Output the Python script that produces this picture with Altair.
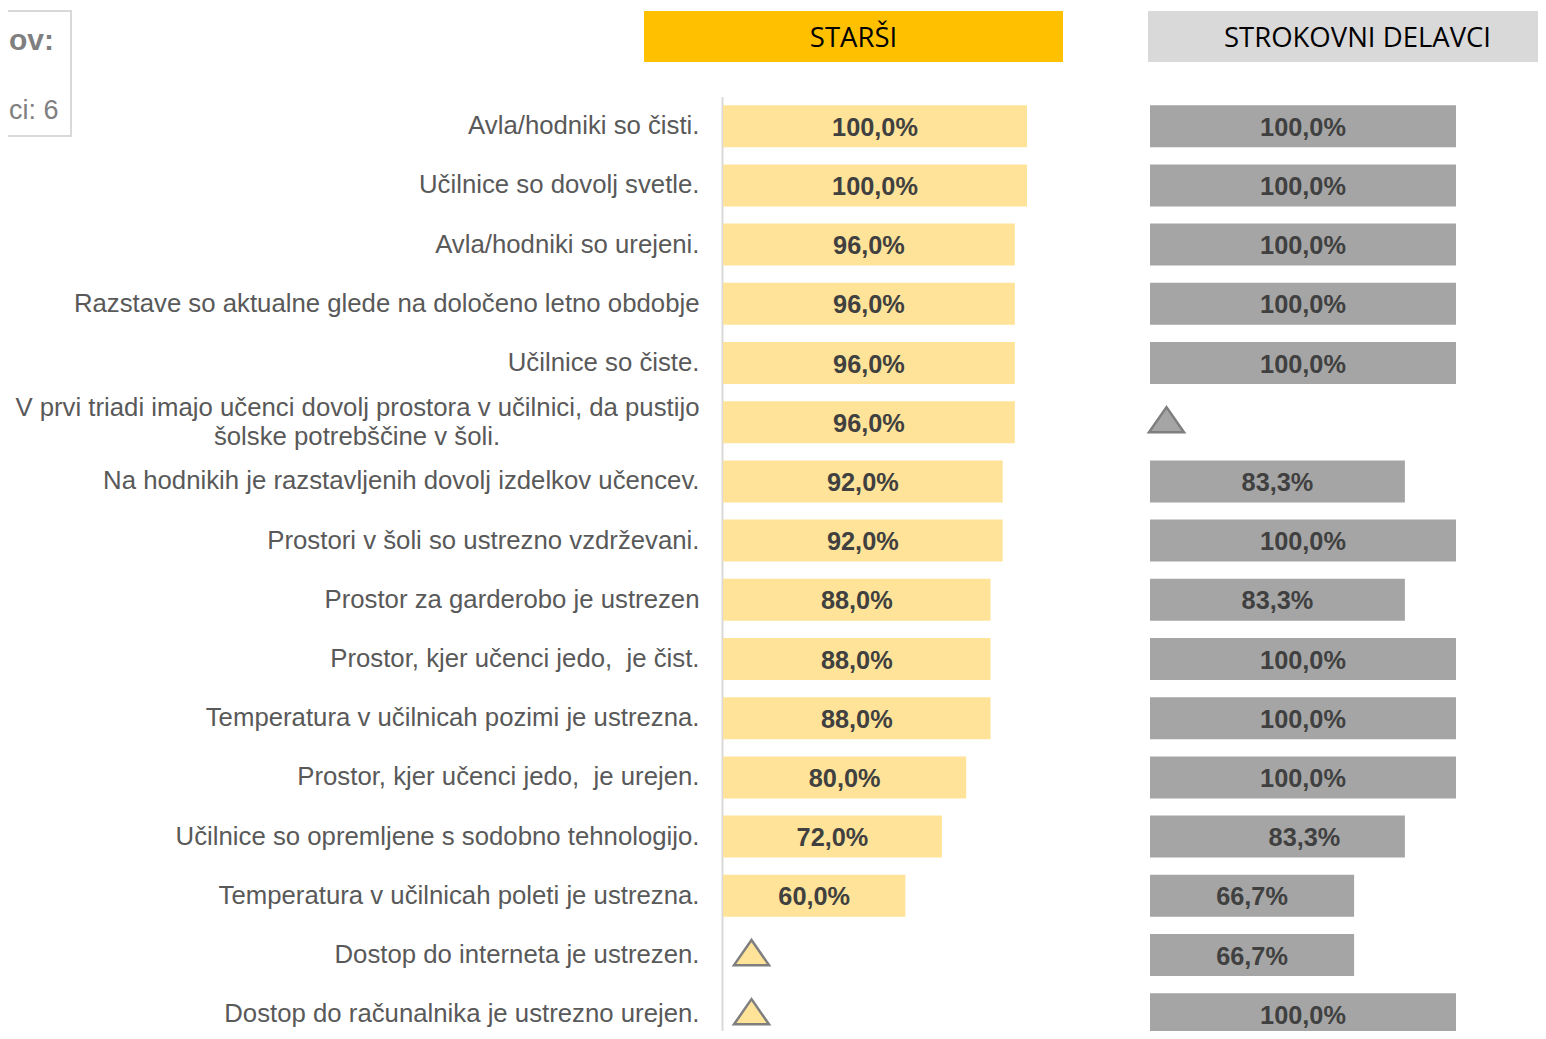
import altair as alt
import pandas as pd

questions = [
    "Avla/hodniki so čisti.", "Učilnice so dovolj svetle.", "Avla/hodniki so urejeni.",
    "Razstave so aktualne glede na določeno letno obdobje", "Učilnice so čiste.",
    "V prvi triadi imajo učenci dovolj prostora v učilnici, da pustijo|šolske potrebščine v šoli.",
    "Na hodnikih je razstavljenih dovolj izdelkov učencev.", "Prostori v šoli so ustrezno vzdrževani.",
    "Prostor za garderobo je ustrezen", "Prostor, kjer učenci jedo,\u00a0 je čist.",
    "Temperatura v učilnicah pozimi je ustrezna.", "Prostor, kjer učenci jedo,\u00a0 je urejen.",
    "Učilnice so opremljene s sodobno tehnologijo.", "Temperatura v učilnicah poleti je ustrezna.",
    "Dostop do interneta je ustrezen.", "Dostop do računalnika je ustrezno urejen.",
]
starsi = [100, 100, 96, 96, 96, 96, 92, 92, 88, 88, 88, 80, 72, 60, None, None]
delavci = [100, 100, 100, 100, 100, None, 83.3, 100, 83.3, 100, 100, 100, 83.3, 66.7, 66.7, 100]

W, H = 1530, 1023
FONT = "Liberation Sans"
df = pd.DataFrame({"q": questions, "a": starsi, "b": delavci, "row": range(len(questions))})

yscale = alt.Scale(domain=questions, range=[88.6, 1035.8], paddingInner=0.29, paddingOuter=0.145)
Y = alt.Y("q:N", scale=yscale, sort=None, title=None, axis=alt.Axis(
    orient="left", offset=-714, ticks=False, grid=False, domainColor="#d9d9d9", domainWidth=2,
    labelFont=FONT, labelFontSize=25.75, labelColor="#595959", labelPadding=23, labelLimit=800,
    labelExpr="split(datum.value, '|')[0]",
    labelOffset={"condition": {"test": "indexof(datum.value, '|') >= 0", "value": -14.5}, "value": 0}))
left = alt.Scale(domain=[0, 100], range=[715, 1019])
right = alt.Scale(domain=[0, 100], range=[1142, 1448])
TXT = dict(font=FONT, fontSize=25.3, fontWeight="bold", color="#404040", dy=1.5)


def series(field, scale, fill, mark_x):
    base = alt.Chart(df)
    have = f"isValid(datum.{field})"
    bars = base.transform_filter(have).mark_bar(color=fill).encode(
        x=alt.X(f"{field}:Q", scale=scale, axis=None), y=Y)
    lab = base.transform_filter(have).transform_calculate(
        mid=f"datum.{field} / 2", txt=f"replace(format(datum.{field}, '.1f'), '.', ',') + '%'")
    tri = base.transform_filter(f"!({have})").mark_point(
        shape="M0,-0.86 L1,0.58 L-1,0.58 Z", size=1225, filled=True, fill=fill,
        stroke="#7f7f7f", strokeWidth=2.5, opacity=1).encode(x=alt.value(mark_x), y=Y)
    return bars, lab, tri


a_bars, a_lab, a_tri = series("a", left, "#ffe399", 743.5)
b_bars, b_lab, b_tri = series("b", right, "#a5a5a5", 1158.5)
layers = [
    a_bars,
    a_lab.mark_text(**TXT).encode(x=alt.X("mid:Q", scale=left, axis=None), y=Y, text="txt:N"),
    a_tri,
    b_bars,
    b_lab.transform_filter("datum.row != 12").mark_text(**TXT).encode(
        x=alt.X("mid:Q", scale=right, axis=None), y=Y, text="txt:N"),
    # this one label sits off-centre in the reference
    b_lab.transform_filter("datum.row == 12").mark_text(dx=27, **TXT).encode(
        x=alt.X("mid:Q", scale=right, axis=None), y=Y, text="txt:N"),
    b_tri,
    # second line of the wrapped category label, centred under the first
    alt.Chart(df).transform_filter("indexof(datum.q, '|') >= 0").transform_calculate(
        line2="split(datum.q, '|')[1]").mark_text(
        font=FONT, fontSize=25.75, color="#595959", dy=15).encode(
        x=alt.value(349), y=Y, text="line2:N"),
]


def band(name, x0, x1, color, cx):
    d = alt.Chart(pd.DataFrame({"t": [name]}))
    r = d.mark_rect(color=color).encode(x=alt.value(x0), x2=alt.value(x1), y=alt.value(3), y2=alt.value(54))
    t = d.mark_text(font="Open Sans", fontSize=27.5, color="#000000", baseline="middle").encode(
        x=alt.value(cx), y=alt.value(31), text="t:N")
    return [r, t]


layers += band("STARŠI", 636, 1055, "#ffc000", 845.5)
layers += band("STROKOVNI DELAVCI", 1140, 1540, "#d9d9d9", 1349.5)

note = alt.Chart(pd.DataFrame({"t": ["box"]}))
layers.append(note.mark_rect(fill="#ffffff", stroke="#d9d9d9", strokeWidth=2).encode(
    x=alt.value(-20), x2=alt.value(63), y=alt.value(3), y2=alt.value(128)))
layers.append(alt.Chart(pd.DataFrame({"t": ["ov:"]})).mark_text(
    font=FONT, fontSize=30, fontWeight="bold", color="#7f7f7f", align="left", baseline="middle").encode(
    x=alt.value(1), y=alt.value(33), text="t:N"))
layers.append(alt.Chart(pd.DataFrame({"t": ["ci: 6"]})).mark_text(
    font=FONT, fontSize=27, color="#7f7f7f", align="left", baseline="middle").encode(
    x=alt.value(1), y=alt.value(103), text="t:N"))

chart = alt.layer(*layers).resolve_scale(x="independent").properties(
    width=W, height=H, padding=0,
    autosize=alt.AutoSizeParams(type="none", contains="content"),
).configure_view(stroke=None)

chart.save("out.html", embed_options={"renderer": "svg", "actions": False})
